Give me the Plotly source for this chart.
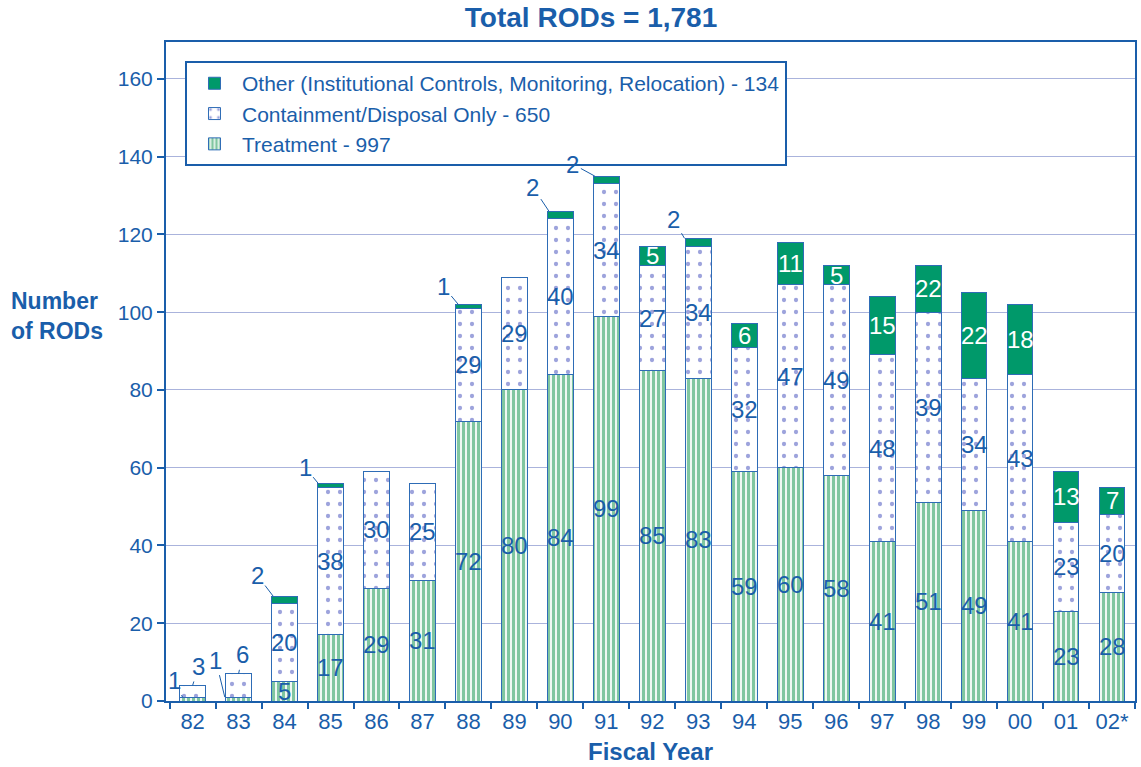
import plotly.graph_objects as go

# ---- data ----
years = ['82', '83', '84', '85', '86', '87', '88', '89', '90', '91', '92',
         '93', '94', '95', '96', '97', '98', '99', '00', '01', '02*']
treatment = [1, 1, 5, 17, 29, 31, 72, 80, 84, 99, 85, 83, 59, 60, 58, 41, 51, 49, 41, 23, 28]
# bar heights as drawn (FY98 segment boundary drawn at 100)
containment = [3, 6, 20, 38, 30, 25, 29, 29, 40, 34, 27, 34, 32, 47, 49, 48, 49, 34, 43, 23, 20]
other = [0, 0, 2, 1, 0, 0, 1, 0, 2, 2, 5, 2, 6, 11, 5, 15, 12, 22, 18, 13, 7]
# numbers as printed on the bars
treatment_labels = ['1', '1', '5', '17', '29', '31', '72', '80', '84', '99', '85', '83',
                    '59', '60', '58', '41', '51', '49', '41', '23', '28']
containment_labels = ['3', '6', '20', '38', '30', '25', '29', '29', '40', '34', '27', '34',
                      '32', '47', '49', '48', '39', '34', '43', '23', '20']
other_labels = ['', '', '2', '1', '', '', '1', '', '2', '2', '5', '2',
                '6', '11', '5', '15', '22', '22', '18', '13', '7']
legend_names = ['Treatment - 997', 'Containment/Disposal Only - 650',
                'Other (Institutional Controls, Monitoring, Relocation) - 134']
title_text = 'Total RODs = 1,781'

# ---- styles ----
BLUE = '#1a5eaa'
GREEN = '#00996a'
STRIPE = '#80c6a0'
DOT = '#9da3dc'
GRID = '#aab3dc'
FONT = 'Liberation Sans, Arial, Helvetica, sans-serif'

fig = go.Figure()
outline = dict(color='#2e6cb6', width=1)
fig.add_trace(go.Bar(
    x=years, y=treatment, name=legend_names[0],
    marker=dict(color='white', line=outline,
                pattern=dict(shape='|', fgcolor=STRIPE, bgcolor='white',
                             size=5, solidity=0.65, fillmode='replace')),
))
fig.add_trace(go.Bar(
    x=years, y=containment, name=legend_names[1],
    marker=dict(color='white', line=outline,
                pattern=dict(shape='.', fgcolor=DOT, bgcolor='white',
                             size=12, solidity=0.1, fillmode='replace')),
))
fig.add_trace(go.Bar(
    x=years, y=other, name=legend_names[2],
    marker=dict(color=GREEN, line=outline),
))

annotations = []
lab_font = dict(family=FONT, size=24, color=BLUE)
white_font = dict(family=FONT, size=24, color='white')

# callouts (labels placed outside the bars with leader lines):
# (category index, series, horizontal offset of tip in category units, ax, ay)
callouts = [
    (0, 't', -0.22, -8, -17), (0, 'c', 0.0, 6, -19),
    (1, 't', -0.3, -9, -37), (1, 'c', 0.0, 4, -19),
    (2, 'o', -0.25, -16, -21), (3, 'o', -0.27, -13, -16),
    (6, 'o', -0.22, -15, -18), (8, 'o', -0.25, -16, -24),
    (9, 'o', -0.25, -22, -12), (11, 'o', -0.3, -11, -19),
]
outside = {(c[0], c[1]) for c in callouts}

for i in range(len(years)):
    t, c, o = treatment[i], containment[i], other[i]
    if (i, 't') not in outside:
        annotations.append(dict(x=i, y=t / 2, xref='x', yref='y', text=treatment_labels[i],
                                showarrow=False, font=lab_font))
    if (i, 'c') not in outside:
        annotations.append(dict(x=i, y=t + c / 2, xref='x', yref='y', text=containment_labels[i],
                                showarrow=False, font=lab_font))
    if o > 0 and (i, 'o') not in outside:
        annotations.append(dict(x=i, y=t + c + o / 2, xref='x', yref='y', text=other_labels[i],
                                showarrow=False, font=white_font))

for i, s, dx, ax, ay in callouts:
    if s == 't':
        y, txt = treatment[i], treatment_labels[i]
    elif s == 'c':
        y, txt = treatment[i] + containment[i], containment_labels[i]
    else:
        y, txt = treatment[i] + containment[i] + other[i], other_labels[i]
    annotations.append(dict(x=i + dx, y=y, xref='x', yref='y', text=txt,
                            showarrow=True, arrowhead=0, arrowwidth=1, arrowcolor=BLUE,
                            ax=ax, ay=ay, standoff=0, font=lab_font))

# axis titles
annotations.append(dict(text='<b>Number<br>of RODs</b>', xref='paper', yref='paper',
                        x=-0.162, y=0.584, xanchor='left', yanchor='middle', align='left',
                        showarrow=False, font=dict(family=FONT, size=23, color=BLUE)))
annotations.append(dict(text='<b>Fiscal Year</b>', xref='paper', yref='paper', x=0.5, y=-0.077,
                        xanchor='center', yanchor='middle', showarrow=False,
                        font=dict(family=FONT, size=24, color=BLUE)))

fig.update_layout(
    width=1141, height=767,
    margin=dict(l=166, r=4, t=42, b=66),
    paper_bgcolor='white', plot_bgcolor='white',
    barmode='stack', bargap=0.44,
    title=dict(text='<b>' + title_text + '</b>', x=0.518, xref='container', y=0.977, yref='container',
               xanchor='center', yanchor='middle',
               font=dict(family=FONT, size=28, color=BLUE)),
    font=dict(family=FONT, color=BLUE),
    legend=dict(x=0.0196, y=0.971, xanchor='left', yanchor='top',
                bgcolor='white', bordercolor=BLUE, borderwidth=2,
                traceorder='reversed', tracegroupgap=0, itemwidth=45,
                font=dict(family=FONT, size=21, color=BLUE)),
    annotations=annotations,
    showlegend=True,
)
fig.update_xaxes(
    type='category', showline=True, linecolor=BLUE, linewidth=2, mirror=True,
    ticks='outside', tickson='boundaries', ticklen=6, tickcolor=BLUE, tickwidth=1.5,
    tickfont=dict(family=FONT, size=22, color=BLUE), showgrid=False,
)
fig.update_yaxes(
    range=[0, 169.5], tickvals=[0, 20, 40, 60, 80, 100, 120, 140, 160],
    showline=True, linecolor=BLUE, linewidth=2, mirror=True,
    ticks='outside', ticklen=7, tickcolor=BLUE, tickwidth=1.5,
    tickfont=dict(family=FONT, size=21, color=BLUE),
    showgrid=True, gridcolor=GRID, gridwidth=1, zeroline=False,
)

fig.write_html('out.html', config={'displayModeBar': False},
               post_script="document.body.style.margin='0';")
